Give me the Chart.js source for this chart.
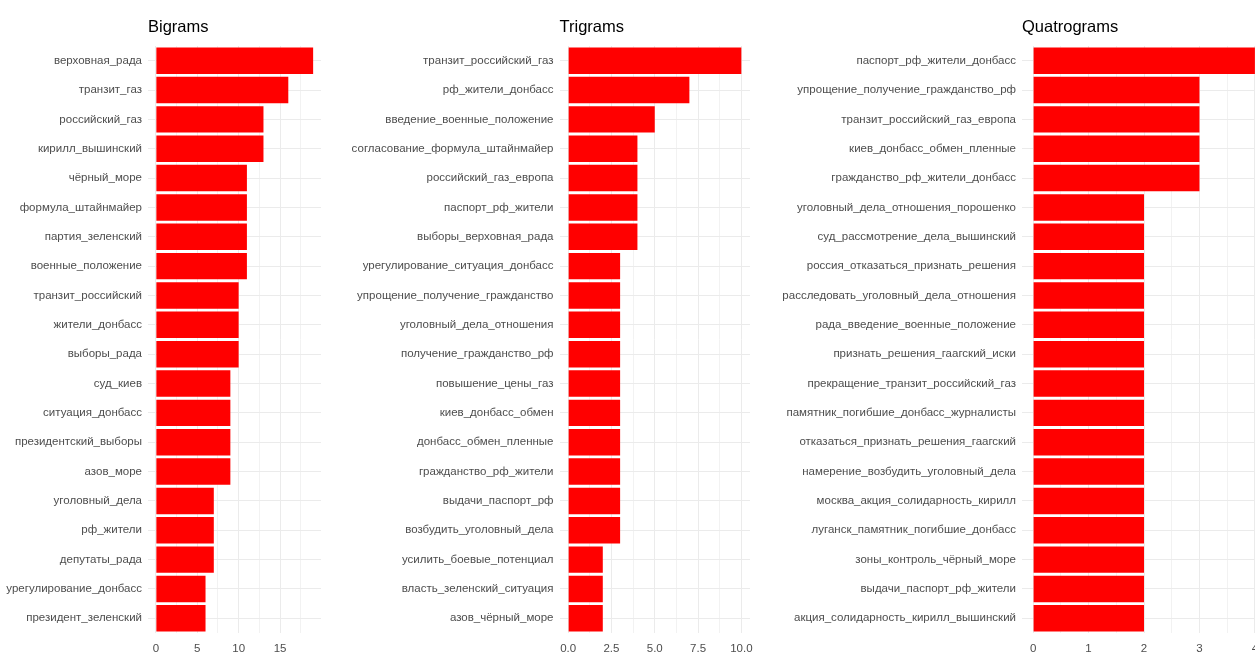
<!DOCTYPE html>
<html>
<head>
<meta charset="utf-8">
<script src="https://cdn.jsdelivr.net/npm/chart.js@4.4.1/dist/chart.umd.min.js"></script>
<style>
    html, body { margin: 0; padding: 0; overflow: hidden; background: #fff; width: 1255px; height: 652px; }
    .panel { position: absolute; top: 0; height: 690px; }
</style>
</head>
<body>
<div class="panel" style="left:0; width:331px;"><canvas id="bigramChart"></canvas></div>
<div class="panel" style="left:330px; width:430px;"><canvas id="trigramChart"></canvas></div>
<div class="panel" style="left:760px; width:516px;"><canvas id="quatrogramChart"></canvas></div>
<script>
// n-gram data
const bigramLabels = ['верховная_рада', 'транзит_газ', 'российский_газ', 'кирилл_вышинский', 'чёрный_море', 'формула_штайнмайер', 'партия_зеленский', 'военные_положение', 'транзит_российский', 'жители_донбасс', 'выборы_рада', 'суд_киев', 'ситуация_донбасс', 'президентский_выборы', 'азов_море', 'уголовный_дела', 'рф_жители', 'депутаты_рада', 'урегулирование_донбасс', 'президент_зеленский'];
const bigramCounts = [19, 16, 13, 13, 11, 11, 11, 11, 10, 10, 10, 9, 9, 9, 9, 7, 7, 7, 6, 6];
const bigramTicks = [0, 5, 10, 15];
const bigramTickLabels = ['0', '5', '10', '15'];
const bigramMinor = [2.5, 7.5, 12.5, 17.5];

const trigramLabels = ['транзит_российский_газ', 'рф_жители_донбасс', 'введение_военные_положение', 'согласование_формула_штайнмайер', 'российский_газ_европа', 'паспорт_рф_жители', 'выборы_верховная_рада', 'урегулирование_ситуация_донбасс', 'упрощение_получение_гражданство', 'уголовный_дела_отношения', 'получение_гражданство_рф', 'повышение_цены_газ', 'киев_донбасс_обмен', 'донбасс_обмен_пленные', 'гражданство_рф_жители', 'выдачи_паспорт_рф', 'возбудить_уголовный_дела', 'усилить_боевые_потенциал', 'власть_зеленский_ситуация', 'азов_чёрный_море'];
const trigramCounts = [10, 7, 5, 4, 4, 4, 4, 3, 3, 3, 3, 3, 3, 3, 3, 3, 3, 2, 2, 2];
const trigramTicks = [0, 2.5, 5, 7.5, 10];
const trigramTickLabels = ['0.0', '2.5', '5.0', '7.5', '10.0'];
const trigramMinor = [1.25, 3.75, 6.25, 8.75];

const quatrogramLabels = ['паспорт_рф_жители_донбасс', 'упрощение_получение_гражданство_рф', 'транзит_российский_газ_европа', 'киев_донбасс_обмен_пленные', 'гражданство_рф_жители_донбасс', 'уголовный_дела_отношения_порошенко', 'суд_рассмотрение_дела_вышинский', 'россия_отказаться_признать_решения', 'расследовать_уголовный_дела_отношения', 'рада_введение_военные_положение', 'признать_решения_гаагский_иски', 'прекращение_транзит_российский_газ', 'памятник_погибшие_донбасс_журналисты', 'отказаться_признать_решения_гаагский', 'намерение_возбудить_уголовный_дела', 'москва_акция_солидарность_кирилл', 'луганск_памятник_погибшие_донбасс', 'зоны_контроль_чёрный_море', 'выдачи_паспорт_рф_жители', 'акция_солидарность_кирилл_вышинский'];
const quatrogramCounts = [4, 3, 3, 3, 3, 2, 2, 2, 2, 2, 2, 2, 2, 2, 2, 2, 2, 2, 2, 2];
const quatrogramTicks = [0, 1, 2, 3, 4];
const quatrogramTickLabels = ['0', '1', '2', '3', '4'];
const quatrogramMinor = [0.5, 1.5, 2.5, 3.5];

const FONT = "'Liberation Sans', Arial, sans-serif";

function drawNgramChart(id, title, labels, counts, ticks, tickLabels, minor, yWidth) {
    const top = Math.max(...counts);
    const allTicks = ticks.concat(minor).sort((a, b) => a - b);
    new Chart(document.getElementById(id), {
        type: 'bar',
        data: { labels: labels, datasets: [{ data: counts, backgroundColor: '#ff0000', borderWidth: 0, categoryPercentage: 0.9, barPercentage: 1 }] },
        options: {
            indexAxis: 'y',
            responsive: true,
            maintainAspectRatio: false,
            animation: false,
            layout: { padding: { right: 10 } },
            plugins: {
                legend: { display: false },
                tooltip: { enabled: false },
                title: { display: true, text: title, align: 'start', fullSize: false, color: '#000', font: { family: FONT, size: 16.5, weight: 'normal' }, padding: { top: 18, bottom: 8.2 } }
            },
            scales: {
                x: {
                    min: -0.05 * top,
                    max: 1.05 * top,
                    border: { display: false },
                    grid: { drawTicks: false, color: c => ticks.includes(c.tick.value) ? '#ebebeb' : '#f2f2f2', lineWidth: 1 },
                    afterBuildTicks: s => { s.ticks = allTicks.map(v => ({ value: v })); },
                    ticks: {
                        autoSkip: false, maxRotation: 0, padding: 9, color: '#4d4d4d', font: { family: FONT, size: 11.5 },
                        callback: v => { const i = ticks.indexOf(v); return i >= 0 ? tickLabels[i] : ''; }
                    },
                    afterFit: s => { s.height = 57; s.paddingLeft = 0; s.paddingRight = 0; }
                },
                y: {
                    border: { display: false },
                    grid: { drawTicks: false, offset: false, color: '#ebebeb', lineWidth: 1 },
                    ticks: { autoSkip: false, padding: 6, color: '#4d4d4d', font: { family: FONT, size: 11.5 } },
                    afterFit: s => { s.width = yWidth; s.paddingTop = 0; s.paddingBottom = 0; }
                }
            }
        }
    });
}

drawNgramChart('bigramChart', 'Bigrams', bigramLabels, bigramCounts, bigramTicks, bigramTickLabels, bigramMinor, 148);
drawNgramChart('trigramChart', 'Trigrams', trigramLabels, trigramCounts, trigramTicks, trigramTickLabels, trigramMinor, 229.5);
drawNgramChart('quatrogramChart', 'Quatrograms', quatrogramLabels, quatrogramCounts, quatrogramTicks, quatrogramTickLabels, quatrogramMinor, 262);
</script>
</body>
</html>
